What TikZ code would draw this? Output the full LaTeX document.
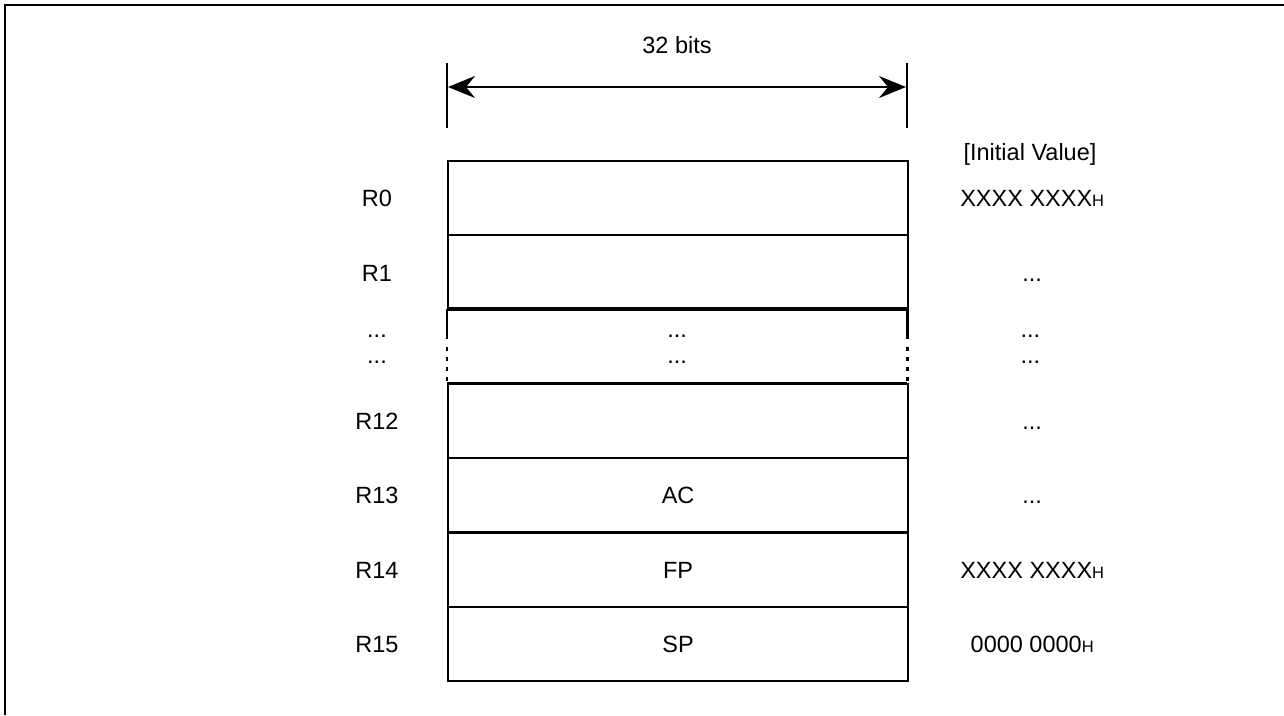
\documentclass[tikz,border=0pt]{standalone}
\usepackage{fontspec}
\setmainfont{Liberation Sans}
\usetikzlibrary{arrows.meta,calc}
\newcommand{\hsub}{{\fontsize{16.5}{18}\selectfont H}}
\begin{document}
\begin{tikzpicture}[x=1pt,y=-1pt,
  every node/.style={font=\fontsize{23.5}{27}\selectfont, inner sep=0pt, text height=17pt, text depth=0pt},
  regbox/.style={draw, line width=2.2pt, minimum width=460pt, minimum height=74.29pt, anchor=north west},
  openbox/.style={minimum width=460pt, minimum height=74.29pt, anchor=north west},
  lbl/.style={},
  boxline/.style={line width=2.2pt},
  frameline/.style={line width=2.8pt},
  dimline/.style={line width=1.6pt, >={Stealth[length=27pt,width=22pt,inset=9pt]}, <->},
  ticks/.style={line width=2pt},
]
\useasboundingbox (0,0) rectangle (1284,715);
% outer frame (top and left edges)
\coordinate (fa) at (5,715);
\coordinate (fb) at (5,5);
\coordinate (fc) at (1284,5);
\draw[frameline] (fa) -- (fb) -- (fc);

% register rows
\node[regbox] (r0) at (447,160) {};
\node[regbox] (r1) at (447,234.29) {};
\node[openbox] (rd) at (447,308.57) {};
\node[regbox] (r12) at (447,382.86) {};
\node[regbox] (r13) at (447,457.14) {AC};
\node[regbox] (r14) at (447,531.43) {FP};
\node[regbox] (r15) at (447,605.71) {SP};

% open middle row
\draw[boxline] (rd.north west) -- (rd.north east);
\draw[boxline] (rd.south west) -- (rd.south east);
\draw[boxline] (rd.north west) -- ($(rd.north west)+(0,30)$);
\draw[boxline] (rd.north east) -- ($(rd.north east)+(0,30)$);
\draw[boxline, dash pattern=on 4pt off 6pt] ($(rd.north west)+(0,38)$) -- (rd.south west);
\draw[boxline, dash pattern=on 4pt off 6pt] ($(rd.north east)+(0,38)$) -- (rd.south east);
\node (md1) at ([yshift=17pt]rd.center) {...};
\node (md2) at ([yshift=-9pt]rd.center) {...};

% left labels
\node[lbl] (l0) at ([xshift=-70pt]r0.west) {R0};
\node[lbl] (l1) at ([xshift=-70pt]r1.west) {R1};
\node[lbl] (ld1) at ([xshift=-70pt,yshift=17pt]rd.west) {...};
\node[lbl] (ld2) at ([xshift=-70pt,yshift=-9pt]rd.west) {...};
\node[lbl] (l12) at ([xshift=-70pt]r12.west) {R12};
\node[lbl] (l13) at ([xshift=-70pt]r13.west) {R13};
\node[lbl] (l14) at ([xshift=-70pt]r14.west) {R14};
\node[lbl] (l15) at ([xshift=-70pt]r15.west) {R15};

% initial values
\node (ivh) at (1030,152) {[Initial Value]};
\node (v0) at ([xshift=123pt]r0.east) {XXXX XXXX\hsub};
\node (v1) at ([xshift=123pt]r1.east) {...};
\node (vd1) at ([xshift=123pt,yshift=17pt]rd.east) {...};
\node (vd2) at ([xshift=123pt,yshift=-9pt]rd.east) {...};
\node (v12) at ([xshift=123pt]r12.east) {...};
\node (v13) at ([xshift=123pt]r13.east) {...};
\node (v14) at ([xshift=123pt]r14.east) {XXXX XXXX\hsub};
\node (v15) at ([xshift=123pt]r15.east) {0000 0000\hsub};

% width dimension
\coordinate (ta) at (447,63);
\coordinate (tb) at (447,128);
\coordinate (tc) at (907,63);
\coordinate (td) at (907,128);
\draw[ticks] (ta) -- (tb);
\draw[ticks] (tc) -- (td);
\coordinate (aa) at (448,87);
\coordinate (ab) at (906,87);
\draw[dimline] (aa) -- (ab);
\node (bits) at (677,45) {32 bits};
\end{tikzpicture}
\end{document}
